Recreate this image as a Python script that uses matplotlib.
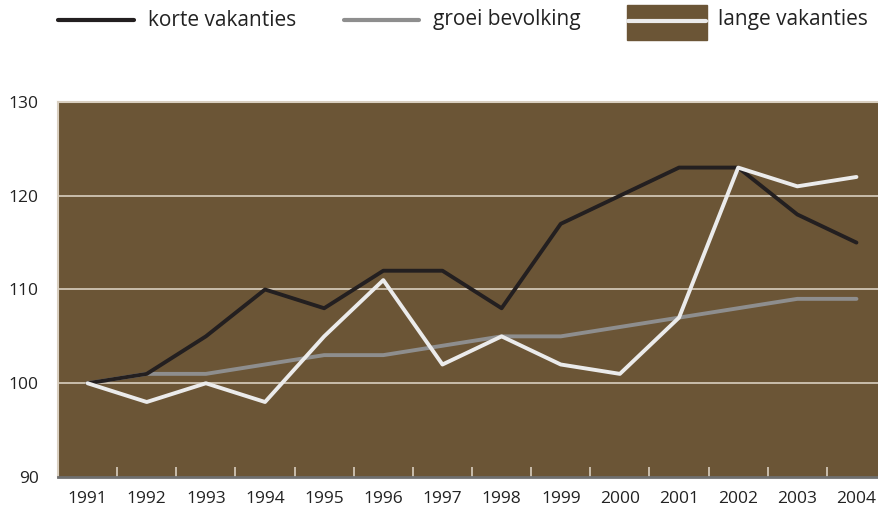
import matplotlib.pyplot as plt
from matplotlib.lines import Line2D
from matplotlib.patches import Rectangle

plt.rcParams['font.family'] = ['Open Sans', 'DejaVu Sans']

years = ['1991', '1992', '1993', '1994', '1995', '1996', '1997',
         '1998', '1999', '2000', '2001', '2002', '2003', '2004']
korte = [100, 101, 105, 110, 108, 112, 112, 108, 117, 120, 123, 123, 118, 115]
groei = [100, 101, 101, 102, 103, 103, 104, 105, 105, 106, 107, 108, 109, 109]
lange = [100, 98, 100, 98, 105, 111, 102, 105, 102, 101, 107, 123, 121, 122]
yticks = [90, 100, 110, 120, 130]

brown = '#6b5536'
black = '#231f20'
grey = '#8e8e8e'
white = '#ebebeb'
grid = '#d9cfc0'

fig = plt.figure(figsize=(8.79, 5.11), dpi=100)
ax = fig.add_axes([0.066, 0.0665, 0.942, 0.734])
ax.set_facecolor(brown)

x = range(len(years))
for v in yticks[1:-1]:
    ax.axhline(v, color=grid, lw=1.2, zorder=1)
ax.plot(x, groei, color=grey, lw=2.8, solid_capstyle='round', zorder=2)
ax.plot(x, korte, color=black, lw=2.8, solid_capstyle='round', zorder=3)
ax.plot(x, lange, color=white, lw=2.8, solid_capstyle='round', zorder=4)

ax.set_xlim(-0.5, len(years) - 0.5)
ax.set_ylim(90, 130)
ax.set_xticks(list(x))
ax.set_xticklabels(years, fontsize=12.5, color='#222')
ax.set_xticks([i + 0.5 for i in range(len(years) - 1)], minor=True)
ax.tick_params(axis='x', which='major', length=0, pad=10)
ax.tick_params(axis='x', which='minor', direction='in', length=7,
               width=1.2, color=grid)
ax.set_yticks(yticks)
ax.set_yticklabels([str(v) for v in yticks], fontsize=12.5, color='#222')
ax.tick_params(axis='y', length=0, pad=14)
for lbl in ax.get_yticklabels():
    lbl.set_verticalalignment('center_baseline')

ax.spines['top'].set_color(grid)
ax.spines['left'].set_color(grid)
ax.spines['right'].set_visible(False)
ax.spines['bottom'].set_color('#6f6f6f')
ax.spines['top'].set_linewidth(1.5)
ax.spines['left'].set_linewidth(1.5)
ax.spines['bottom'].set_linewidth(2)

# legend along the top
def fx(px):
    return px / 879

def fy(py):
    return 1 - py / 511

fig.lines.append(Line2D([fx(58), fx(134)], [fy(20), fy(20)], color=black,
                        lw=3, solid_capstyle='round', transform=fig.transFigure))
fig.text(fx(148), fy(20), 'korte vakanties', fontsize=15, va='center', color='#222')
fig.lines.append(Line2D([fx(344), fx(419)], [fy(20), fy(20)], color=grey,
                        lw=3, solid_capstyle='round', transform=fig.transFigure))
fig.text(fx(433), fy(20), 'groei bevolking', fontsize=15, va='center', color='#222')
fig.patches.append(Rectangle((fx(627), fy(40)), fx(80), 35 / 511, color=brown,
                             transform=fig.transFigure))
fig.lines.append(Line2D([fx(628), fx(706)], [fy(21), fy(21)], color=white,
                        lw=3, solid_capstyle='round', transform=fig.transFigure))
fig.text(fx(718), fy(20), 'lange vakanties', fontsize=15, va='center', color='#222')

fig.savefig('out.png', dpi=100)
